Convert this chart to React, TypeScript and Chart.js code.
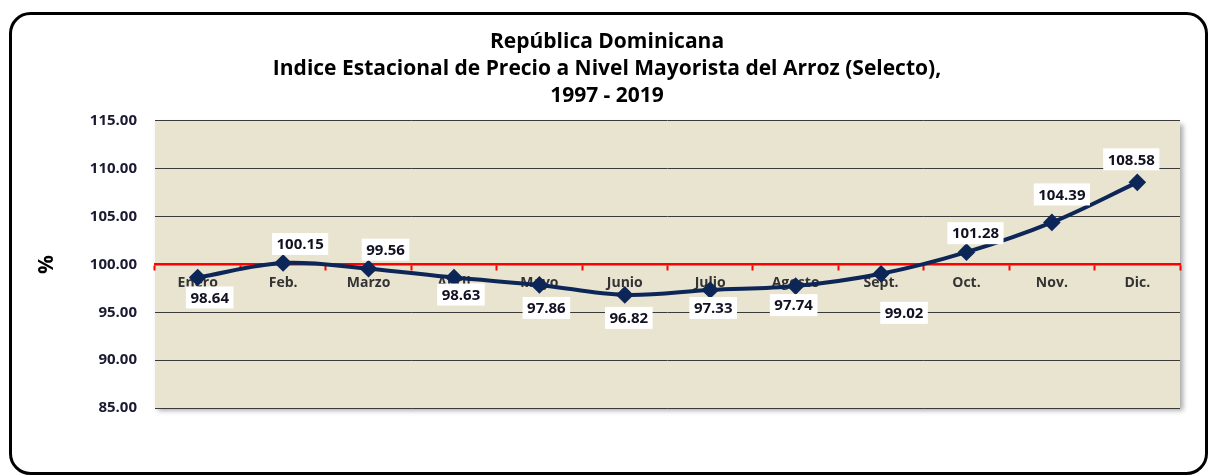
import React, { useEffect, useRef } from "react";
import { Chart, registerables } from "chart.js";

Chart.register(...registerables);

const months = ["Enero", "Feb.", "Marzo", "Abril", "Mayo", "Junio", "Julio", "Agosto", "Sept.", "Oct.", "Nov.", "Dic."];
const indexValues = [98.64, 100.15, 99.56, 98.63, 97.86, 96.82, 97.33, 97.74, 99.02, 101.28, 104.39, 108.58];
const titleLines = ["República Dominicana", "Indice Estacional de Precio a Nivel Mayorista del Arroz (Selecto),", "1997 - 2019"];
const yAxisTitle = "%";
const yMin = 85;
const yMax = 115;
const yStep = 5;

// label offsets (styling, pixels relative to point)
const labelOffsets: [number, number][] = [
  [12, 20], [17, -19], [17, -19], [7, 17], [7, 23], [4, 23],
  [3, 18], [-2, 19], [23, 39], [9, -19], [10, -28], [-6, -23],
];

const FONT = "'Open Sans', Lato, sans-serif";

const framePlugin = {
  id: "frame",
  beforeDraw(chart: any) {
    const { ctx, chartArea } = chart;
    ctx.save();
    ctx.fillStyle = "#ffffff";
    ctx.fillRect(0, 0, chart.width, chart.height);
    ctx.strokeStyle = "#000000";
    ctx.lineWidth = 3;
    ctx.beginPath();
    ctx.roundRect(10.5, 13.5, 1196, 460, 20);
    ctx.stroke();
    const { left, top, right, bottom } = chartArea;
    ctx.shadowColor = "rgba(0,0,0,0.35)";
    ctx.shadowBlur = 5;
    ctx.shadowOffsetX = 3;
    ctx.shadowOffsetY = 3;
    ctx.fillStyle = "#e9e4d0";
    ctx.fillRect(left, top, right - left, bottom - top);
    ctx.restore();
  },
};

const labelPlugin = {
  id: "valueLabels",
  afterDatasetsDraw(chart: any) {
    const { ctx } = chart;
    const meta = chart.getDatasetMeta(0);
    ctx.save();
    ctx.font = `bold 15px ${FONT}`;
    ctx.textAlign = "center";
    ctx.textBaseline = "middle";
    meta.data.forEach((pt: any, i: number) => {
      const txt = indexValues[i].toFixed(2);
      const [dx, dy] = labelOffsets[i];
      const cx = pt.x + dx;
      const cy = pt.y + dy;
      const w = ctx.measureText(txt).width + 9;
      const h = 22;
      ctx.fillStyle = "#ffffff";
      ctx.fillRect(cx - w / 2, cy - h / 2, w, h);
      ctx.fillStyle = "#111122";
      ctx.fillText(txt, cx, cy + 1);
    });
    ctx.restore();
  },
};

export default function App() {
  const ref = useRef<HTMLCanvasElement | null>(null);
  useEffect(() => {
    document.body.style.margin = "0";
    const chart = new Chart(ref.current as HTMLCanvasElement, {
      type: "line",
      data: {
        labels: months,
        datasets: [
          {
            data: indexValues,
            borderColor: "#0c2658",
            backgroundColor: "#0c2658",
            borderWidth: 4,
            pointStyle: "rectRot",
            pointRadius: 6,
            pointHoverRadius: 6,
            tension: 0.35,
            fill: false,
          },
        ],
      },
      options: {
        animation: false,
        responsive: false,
        maintainAspectRatio: false,
        layout: { padding: { left: 34, right: 30, top: 28, bottom: 67 } },
        plugins: {
          legend: { display: false },
          tooltip: { enabled: false },
          title: {
            display: true,
            text: titleLines,
            color: "#000000",
            font: { family: FONT, size: 21, weight: "bold", lineHeight: 1.3 },
            padding: { top: 0, bottom: 11 },
          },
        },
        scales: {
          x: {
            type: "category",
            position: { y: 100 } as any,
            offset: true,
            border: { display: true, color: "#ff0000", width: 2.5 },
            grid: {
              display: true,
              drawOnChartArea: false,
              drawTicks: true,
              tickLength: 5,
              tickWidth: 2,
              tickColor: "#ff0000",
              color: "#ff0000",
              offset: true,
            },
            ticks: {
              color: "#333333",
              font: { family: FONT, size: 14, weight: "bold" },
              padding: 5,
              maxRotation: 0,
              autoSkip: false,
            },
          },
          y: {
            min: yMin,
            max: yMax,
            border: { display: false },
            grid: { color: "#3a3a3a", lineWidth: 1, drawTicks: false },
            ticks: {
              stepSize: yStep,
              color: "#1a1a30",
              padding: 18,
              font: { family: FONT, size: 15, weight: "bold" },
              callback: (v: any) => Number(v).toFixed(2),
            },
            title: {
              display: true,
              text: yAxisTitle,
              color: "#000000",
              font: { family: FONT, size: 21, weight: "bold" },
              padding: { top: 0, bottom: 0 },
            },
            afterFit: (scale: any) => {
              scale.width = 121;
            },
          },
        },
      },
      plugins: [framePlugin, labelPlugin],
    });
    return () => chart.destroy();
  }, []);
  return (
    <div style={{ position: "absolute", left: 0, top: 0, width: 1210, height: 475 }}>
      <canvas ref={ref} width={1210} height={475} style={{ width: 1210, height: 475, display: "block" }} />
    </div>
  );
}
